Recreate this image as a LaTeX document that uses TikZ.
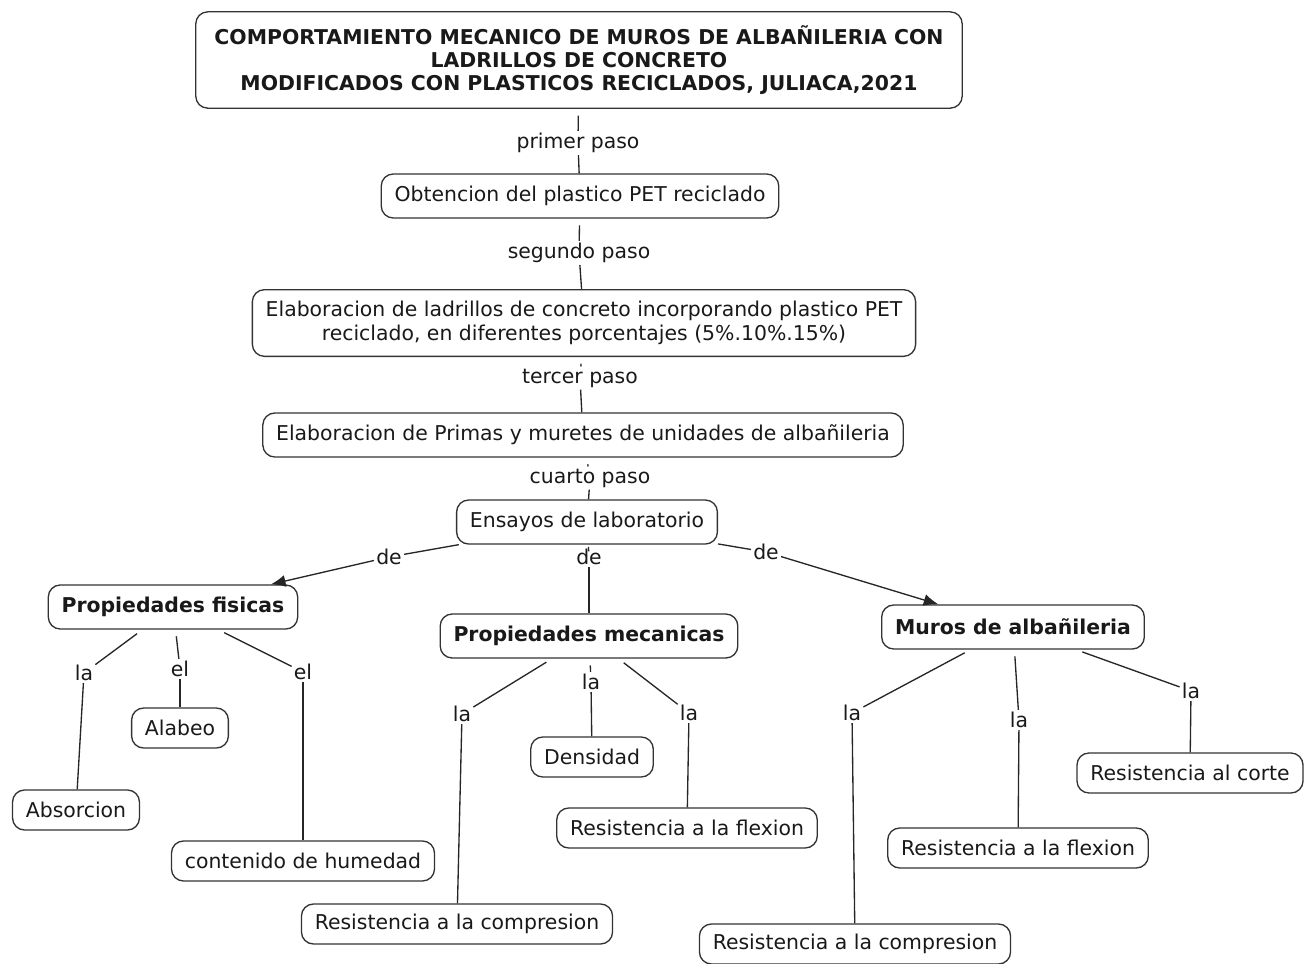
\documentclass[tikz,border=0pt]{standalone}
\usepackage{fontspec}
\setmainfont{DejaVu Sans}
\usetikzlibrary{arrows.meta}

\begin{document}
\begin{tikzpicture}[x=0.75pt,y=0.75pt,yscale=-1,xscale=1,
  every node/.style={font=\fontsize{15.3}{17.5}\selectfont, text=black!90},
  caja/.style={draw=black!80, line width=1pt, rounded corners=9pt, inner xsep=10pt, minimum height=30pt, align=center},
  principal/.style={caja, minimum height=33pt},
  negrita/.style={principal, font=\fontsize{15.3}{17.5}\selectfont\bfseries},
  enlace/.style={inner sep=1.5pt},
  linea/.style={draw=black!85, line width=1pt},
  rama/.style={linea, shorten <=5pt},
  flecha/.style={linea, -{Latex[length=11pt,width=9pt]}}]
%set diagram size 1314 x 964
\path[use as bounding box] (0,0) rectangle (1314,964);

% Text Node
\node [negrita, inner xsep=14pt, inner ysep=10pt] (titulo) at (579,60) {COMPORTAMIENTO MECANICO DE MUROS DE ALBAÑILERIA CON\\LADRILLOS DE CONCRETO\\MODIFICADOS CON PLASTICOS RECICLADOS, JULIACA,2021};
% Text Node
\node [principal] (obtencion) at (580,196) {Obtencion del plastico PET reciclado};
% Text Node
\node [principal, minimum height=50pt] (elaboracion) at (584,323) {Elaboracion de ladrillos de concreto incorporando plastico PET\\reciclado, en diferentes porcentajes (5\%.10\%.15\%)};
% Text Node
\node [principal] (primas) at (583,435) {Elaboracion de Primas y muretes de unidades de albañileria};
% Text Node
\node [principal] (ensayos) at (587,522) {Ensayos de laboratorio};

% Text Node
\node [negrita] (fisicas) at (173,607) {Propiedades fisicas};
% Text Node
\node [negrita] (mecanicas) at (589,636) {Propiedades mecanicas};
% Text Node
\node [negrita] (muros) at (1013,627) {Muros de albañileria};

% Text Node
\node [caja] (alabeo) at (180,728) {Alabeo};
% Text Node
\node [caja] (absorcion) at (76,810) {Absorcion};
% Text Node
\node [caja] (humedad) at (303,861) {contenido de humedad};
% Text Node
\node [caja] (densidad) at (592,757) {Densidad};
% Text Node
\node [caja] (flexionA) at (687,828) {Resistencia a la flexion};
% Text Node
\node [caja] (compresionA) at (457,924) {Resistencia a la compresion};
% Text Node
\node [caja] (corte) at (1190,773) {Resistencia al corte};
% Text Node
\node [caja] (flexionB) at (1018,848) {Resistencia a la flexion};
% Text Node
\node [caja] (compresionB) at (855,944) {Resistencia a la compresion};

% Link labels
\node [enlace] (paso1) at (578,143) {primer paso};
\node [enlace] (paso2) at (579,253) {segundo paso};
\node [enlace] (paso3) at (580,378) {tercer paso};
\node [enlace] (paso4) at (590,478) {cuarto paso};
\node [enlace] (de1) at (389,557) {de};
\node [enlace] (de2) at (589,557) {de};
\node [enlace] (de3) at (766,552) {de};
\node [enlace] (la1) at (84,673) {la};
\node [enlace] (el1) at (180,669) {el};
\node [enlace] (el2) at (303,672) {el};
\node [enlace] (la2) at (462,714) {la};
\node [enlace] (la3) at (591,682) {la};
\node [enlace] (la4) at (689,713) {la};
\node [enlace] (la5) at (852,713) {la};
\node [enlace] (la6) at (1019,720) {la};
\node [enlace] (la7) at (1191,691) {la};

%Straight Lines
\draw [rama] (titulo) -- (paso1);
\draw [linea] (paso1) -- (obtencion);
\draw [rama] (obtencion) -- (paso2);
\draw [linea] (paso2) -- (elaboracion);
\draw [rama] (elaboracion) -- (paso3);
\draw [linea] (paso3) -- (primas);
\draw [rama] (primas) -- (paso4);
\draw [linea] (paso4) -- (ensayos);
%Arrows
\draw [linea] (ensayos) -- (de1);
\draw [flecha] (de1) -- (fisicas);
\draw [rama] (ensayos) -- (de2);
\draw [linea] (de2) -- (mecanicas);
\draw [linea] (ensayos) -- (de3);
\draw [flecha] (de3) -- (muros);
%Straight Lines
\draw [rama] (fisicas) -- (la1);
\draw [linea] (la1) -- (absorcion);
\draw [rama] (fisicas) -- (el1);
\draw [linea] (el1) -- (alabeo);
\draw [rama] (fisicas) -- (el2);
\draw [linea] (el2) -- (humedad);
\draw [rama] (mecanicas) -- (la2);
\draw [linea] (la2) -- (compresionA);
\draw [rama] (mecanicas) -- (la3);
\draw [linea] (la3) -- (densidad);
\draw [rama] (mecanicas) -- (la4);
\draw [linea] (la4) -- (flexionA);
\draw [rama] (muros) -- (la5);
\draw [linea] (la5) -- (compresionB);
\draw [rama] (muros) -- (la6);
\draw [linea] (la6) -- (flexionB);
\draw [rama] (muros) -- (la7);
\draw [linea] (la7) -- (corte);

\end{tikzpicture}
\end{document}
